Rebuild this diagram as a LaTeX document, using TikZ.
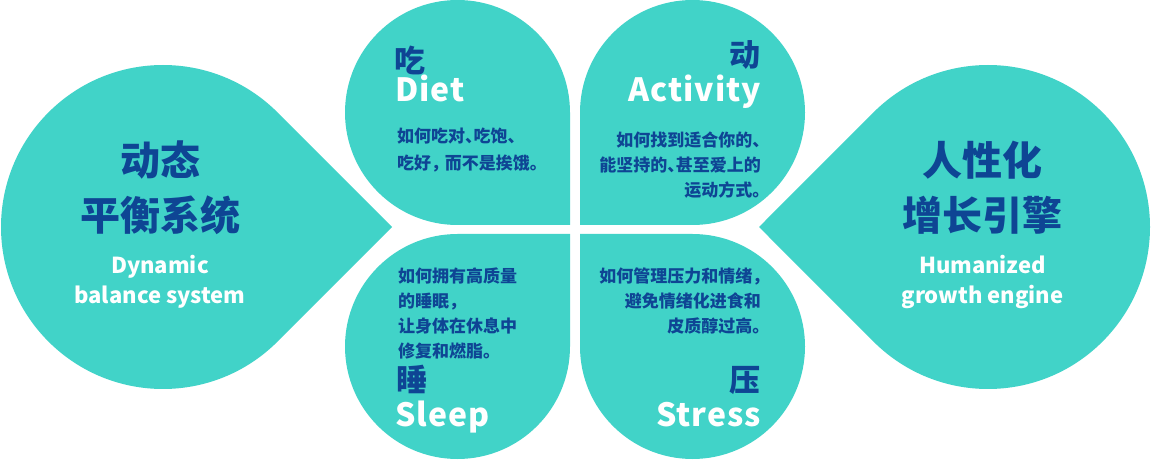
\documentclass[tikz,border=0pt]{standalone}
\usepackage{fontspec}
\newfontfamily\cjkfont{Noto Sans CJK SC}[RawFeature=+halt]
\newfontfamily\spacedfont{Noto Sans CJK SC}[LetterSpace=3]
\definecolor{tealdrop}{HTML}{41D3C8}
\definecolor{navytext}{HTML}{0E4594}
\tikzstyle{drop}=[fill = tealdrop]
\tikzstyle{hanzi}=[
      inner sep = 0pt,
      text depth = 0pt,
      text = navytext,
      font = \cjkfont\bfseries\fontsize{31}{31}\selectfont
      ]
\tikzstyle{petalname}=[
      inner sep = 0pt,
      text = white,
      font = \spacedfont\bfseries\fontsize{32}{32}\selectfont
      ]
\tikzstyle{petaltext}=[
      inner sep = 0pt,
      text = navytext,
      font = \cjkfont\bfseries\fontsize{17}{25}\selectfont
      ]
\tikzstyle{bigtitle}=[
      inner sep = 0pt,
      text = navytext,
      font = \cjkfont\bfseries\fontsize{40}{40}\selectfont
      ]
\tikzstyle{subtitle}=[
      inner sep = 0pt,
      text = white,
      font = \cjkfont\bfseries\fontsize{22}{30}\selectfont
      ]
\begin{document}
\begin{tikzpicture}[x=1pt,y=1pt]
\useasboundingbox (0,0) rectangle (1152,461);

\fill[drop] (163,234) ++(45:162) arc[start angle=45, end angle=315, radius=162] -- (392,234) -- cycle;
\fill[drop] (988,234) ++(135:162) arc[start angle=135, end angle=-135, radius=162] -- (759,234) -- cycle;

\fill[drop] (570,236) -- (570,348.5) arc[start angle=0, end angle=270, radius=112.5] -- cycle;
\fill[drop] (580,236) -- (692.5,236) arc[start angle=-90, end angle=180, radius=112.5] -- cycle;
\fill[drop] (570,227) -- (457.5,227) arc[start angle=90, end angle=360, radius=112.5] -- cycle;
\fill[drop] (580,227) -- (580,114.5) arc[start angle=180, end angle=450, radius=112.5] -- cycle;

\node [bigtitle, anchor=base] (balance1) at (160,285.5) {动态};
\node [bigtitle, anchor=base] (balance2) at (160,230.5) {平衡系统};
\node [subtitle, anchor=base] (balanceen1) at (160,187) {Dynamic};
\node [subtitle, anchor=base] (balanceen2) at (160,157) {balance system};

\node [bigtitle, anchor=base] (engine1) at (982.5,285.5) {人性化};
\node [bigtitle, anchor=base] (engine2) at (982.5,230.5) {增长引擎};
\node [subtitle, anchor=base] (engineen1) at (982.5,187) {Humanized};
\node [subtitle, anchor=base] (engineen2) at (982.5,157) {growth engine};

\node [hanzi, anchor=base west] (diet) at (394,388) {吃};
\node [petalname, anchor=base west] (dieten) at (395,359) {Diet};
\node [petaltext, anchor=north west, align=left] (diettext) at (397,333)
  {如何吃对、吃饱、\\[2pt]吃好，\kern.3em 而不是挨饿。};

\node [hanzi, anchor=base east] (activity) at (761,394) {动};
\node [petalname, anchor=base east] (activityen) at (761,359) {Activity};
\node [petaltext, anchor=north east, align=right] (activitytext) at (761,329)
  {如何找到适合你的、\\能坚持的、甚至爱上的\\运动方式。};

\node [petaltext, anchor=north west, align=left] (sleeptext) at (398,193)
  {如何拥有高质量\\的睡眠，\\让身体在休息中\\修复和燃脂。};
\node [hanzi, anchor=base west] (sleep) at (396,70) {睡};
\node [petalname, anchor=base west] (sleepen) at (395,35) {Sleep};

\node [petaltext, anchor=north east, align=right] (stresstext) at (761,193)
  {如何管理压力和情绪，\\避免情绪化进食和\\皮质醇过高。};
\node [hanzi, anchor=base east] (stress) at (761,70) {压};
\node [petalname, anchor=base east] (stressen) at (761,35) {Stress};
\end{tikzpicture}
\end{document}
